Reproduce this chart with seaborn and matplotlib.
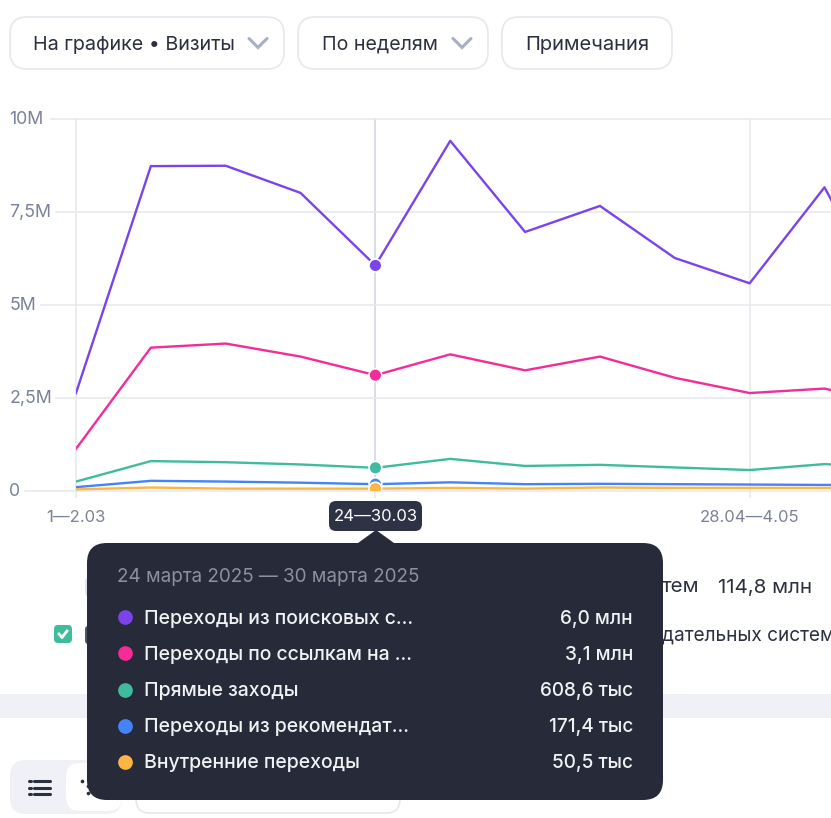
import pandas as pd
import matplotlib
matplotlib.use("Agg")
import matplotlib.pyplot as plt
import seaborn as sns
from matplotlib.patches import FancyBboxPatch, Polygon, Rectangle

# =========================
# 1. DATA
# =========================
weeks = list(range(12))
purple_vals = [2.62, 8.72, 8.73, 8.00, 6.05, 9.40, 6.95, 7.65, 6.25, 5.57, 8.15, 4.40]
pink_vals = [1.12, 3.84, 3.95, 3.60, 3.10, 3.66, 3.23, 3.60, 3.03, 2.62, 2.74, 2.30]
green_vals = [0.24, 0.79, 0.76, 0.70, 0.61, 0.85, 0.66, 0.69, 0.62, 0.55, 0.71, 0.60]
blue_vals = [0.09, 0.26, 0.24, 0.21, 0.17, 0.22, 0.17, 0.18, 0.17, 0.16, 0.15, 0.15]
orange_vals = [0.03, 0.08, 0.05, 0.05, 0.05, 0.07, 0.05, 0.08, 0.07, 0.07, 0.07, 0.07]

series_names = ["Переходы из поисковых с...", "Переходы по ссылкам на ...", "Прямые заходы",
                "Переходы из рекомендат...", "Внутренние переходы"]
series_values = [purple_vals, pink_vals, green_vals, blue_vals, orange_vals]
series_colors = ["#7b43ea", "#f42b98", "#3fbc9c", "#4285fa", "#fdb544"]
tooltip_values = ["6,0 млн", "3,1 млн", "608,6 тыс", "171,4 тыс", "50,5 тыс"]

y_ticks = [0, 2.5, 5, 7.5, 10]
y_labels = ["0", "2,5M", "5M", "7,5M", "10M"]
x_ticks = [0, 4, 9]
x_labels = ["1—2.03", "24—30.03", "28.04—4.05"]
active_week = 4

df = pd.DataFrame({
    "week": weeks * len(series_names),
    "visits": [v for vals in series_values for v in vals],
    "source": [n for n in series_names for _ in weeks],
})

# =========================
# 2. FIGURE
# =========================
W, H = 831, 818
plt.rcParams["font.family"] = ["Inter", "DejaVu Sans"]
fig = plt.figure(figsize=(W / 100, H / 100), dpi=100, facecolor="white")

GRID = "#e6e8ee"
LABEL = "#7a8299"
DARK = "#2b2f3f"

# chart area, pixel box 76..831 x 118..490
ax = fig.add_axes([76 / W, 1 - 490.5 / H, (W - 76) / W, 372 / H])
palette = dict(zip(series_names, series_colors))
sns.lineplot(data=df, x="week", y="visits", hue="source", palette=palette, hue_order=series_names,
             linewidth=1.7, legend=False, ax=ax, zorder=3)
active = df[df["week"] == active_week]
sns.scatterplot(data=active, x="week", y="visits", hue="source", palette=palette, hue_order=series_names,
                s=85, edgecolor="white", linewidth=1.2, legend=False, ax=ax, zorder=4)

ax.set_xlim(0, (W - 76) / 74.85)
ax.set_ylim(0, 10)
ax.set_xlabel("")
ax.set_ylabel("")
for s in ax.spines.values():
    s.set_visible(False)
ax.set_xticks(x_ticks)
ax.set_xticklabels(["1—2.03", "", "28.04—4.05"])
ax.set_yticks(y_ticks)
ax.set_yticklabels([])
ax.grid(axis="both", color=GRID, linewidth=1.1)
ax.xaxis.get_gridlines()[1].set_color("#d0d3dd")
for line in ax.xaxis.get_gridlines() + ax.yaxis.get_gridlines():
    line.set_clip_on(False)
ax.set_axisbelow(True)
ax.tick_params(axis="y", length=0)
ax.tick_params(axis="x", length=5, width=1.1, color=GRID, pad=9, labelsize=12, labelcolor=LABEL)
# y labels sit left aligned at the page edge
for val, lab in zip(y_ticks, y_labels):
    ax.annotate(lab, xy=(0, val), xycoords=ax.get_yaxis_transform(), xytext=(-48, -0.7),
                textcoords="offset points", ha="left", va="center",
                fontsize=12.8, color=LABEL, annotation_clip=False)

# overlay in pixels for the page furniture
ui = fig.add_axes([0, 0, 1, 1], facecolor="none")
ui.set_xlim(0, W)
ui.set_ylim(H, 0)
ui.axis("off")

# left stub of the grid, from the labels to the chart
for y, x0 in zip([118.5, 211.5, 304.5, 397.5, 490.5], [51, 56, 41, 56, 25]):
    ui.plot([x0, 76], [y, y], color=GRID, lw=1.1, zorder=1)


def box(x0, y0, x1, y1, r, fc, ec="none", lw=1.2, z=2):
    p = FancyBboxPatch((x0 + r, y0 + r), x1 - x0 - 2 * r, y1 - y0 - 2 * r,
                       boxstyle=f"round,pad={r},rounding_size={r}", fc=fc, ec=ec, lw=lw, zorder=z)
    ui.add_patch(p)


def chevron(cx, cy):
    ui.plot([cx - 9, cx, cx + 9], [cy - 4.5, cy + 4.5, cy - 4.5], color="#a9afc4", lw=2.2,
            solid_capstyle="round", solid_joinstyle="miter", zorder=3)


# top buttons
box(10, 17, 284, 69, 17, "white", GRID)
box(298, 17, 488, 69, 17, "white", GRID)
box(502, 17, 672, 69, 17, "white", GRID)
ui.text(33, 44.5, "На графике • Визиты", fontsize=14.2, color=DARK, va="center", zorder=3)
ui.text(322, 44.5, "По неделям", fontsize=14.1, color=DARK, va="center", zorder=3)
ui.text(525, 44.5, "Примечания", fontsize=14.5, color=DARK, va="center", zorder=3)
chevron(258, 43)
chevron(462, 43)

# things behind the tooltip
ui.add_patch(Rectangle((0, 694), W, 24, fc="#eff1f6", ec="none", zorder=1))
box(10, 760, 122, 814, 16, "#eff1f6", z=1)
box(66, 763, 122, 811, 14, "white", z=1)
box(136, 770, 400, 813, 14, "white", GRID, z=1)
for y in [781, 787.5, 794]:
    ui.plot([28.5, 30.5], [y, y], color=DARK, lw=2.2, solid_capstyle="round", zorder=3)
    ui.plot([34, 50], [y, y], color=DARK, lw=2.2, solid_capstyle="round", zorder=3)
ui.scatter([82, 88, 88], [781, 786, 793], s=7, color=DARK, linewidths=0, zorder=3)
ui.text(662, 587.5, "тем", fontsize=14.8, color=DARK, va="center", zorder=1)
ui.text(718, 587.5, "114,8 млн", fontsize=14.8, color=DARK, va="center", zorder=1)
ui.text(662, 635.5, "дательных систем", fontsize=13.7, color=DARK, va="center", zorder=1)
box(54, 625, 72, 643, 4, "#3fbc9c", z=1)
ui.plot([59, 62, 67], [634, 637.5, 631], color="white", lw=2, zorder=2)
box(85, 578, 95, 596, 3, "#dfe2ea", z=1)
box(85, 626, 95, 644, 3, "#50566a", z=1)

# x label of the active week and the tooltip
box(329, 501, 422, 531, 7, "#2d3244", z=5)
ui.text(375.5, 516.5, x_labels[1], fontsize=12, color="white", ha="center", va="center", zorder=6)
ui.add_patch(Polygon([[358, 543], [376, 530], [394, 543]], fc="#272a38", ec="none", zorder=6))
box(87, 543, 663, 800, 20, "#272a38", z=6)
ui.text(117, 577.5, "24 марта 2025 — 30 марта 2025", fontsize=13.6, color="#8e909b", va="center", zorder=7)
row_y = [617, 653, 690, 726, 762]
for y, name, val, col in zip(row_y, series_names, tooltip_values, series_colors):
    ui.scatter([124.5], [y], s=112, color=col, zorder=7, linewidths=0)
    ui.text(144, y + 1.5, name, fontsize=14, color="#f1f2f4", va="center", zorder=7, fontweight="medium")
    ui.text(633, y + 1.5, val, fontsize=13.7, color="#f1f2f4", va="center", ha="right", zorder=7, fontweight="medium")

# =========================
# 3. SAVE
# =========================
fig.savefig("out.png", dpi=100)
